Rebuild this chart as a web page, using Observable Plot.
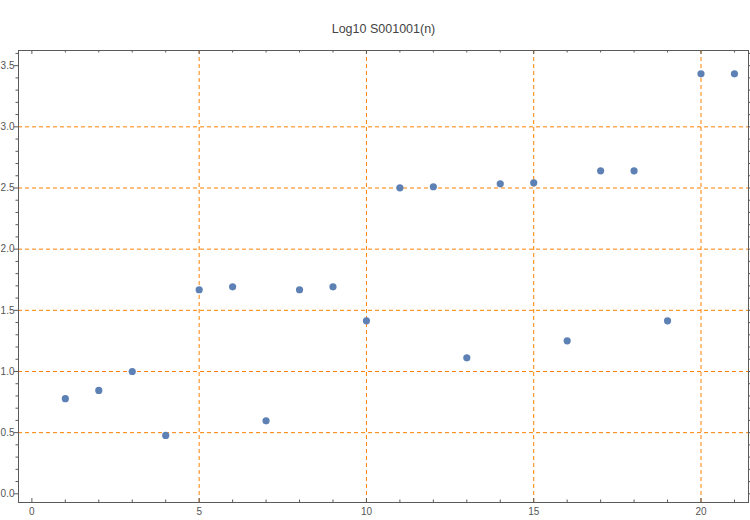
<!DOCTYPE html>
<html>
<head>
<meta charset="utf-8">
<script src="https://cdn.jsdelivr.net/npm/d3@7"></script>
<script src="https://cdn.jsdelivr.net/npm/@observablehq/plot@0.6"></script>
<style>
  html, body { margin: 0; padding: 0; background: #fff; }
  #chart { width: 750px; height: 520px; }
</style>
</head>
<body>
<div id="chart"></div>
<script>
// Data
const titleText = "Log10 S001001(n)";
const nValues = [1, 2, 3, 4, 5, 6, 7, 8, 9, 10, 11, 12, 13, 14, 15, 16, 17, 18, 19, 20, 21];
const logValues = [0.778, 0.845, 1.0, 0.477, 1.668, 1.692, 0.597, 1.668, 1.692, 1.414,
                   2.501, 2.510, 1.112, 2.534, 2.542, 1.251, 2.640, 2.640, 1.414, 3.433, 3.433];

const xDomain = [-0.40, 21.42];
const yDomain = [-0.071, 3.624];
const xMajor = [0, 5, 10, 15, 20];
const xMinor = [1, 2, 3, 4, 6, 7, 8, 9, 11, 12, 13, 14, 16, 17, 18, 19, 21];
const yMajor = [0, 0.5, 1, 1.5, 2, 2.5, 3, 3.5];
const yMinor = [0.1, 0.2, 0.3, 0.4, 0.6, 0.7, 0.8, 0.9, 1.1, 1.2, 1.3, 1.4, 1.6, 1.7, 1.8, 1.9,
                2.1, 2.2, 2.3, 2.4, 2.6, 2.7, 2.8, 2.9, 3.1, 3.2, 3.3, 3.4, 3.6];
const xGrid = [5, 10, 15, 20];
const yGrid = [0.5, 1, 1.5, 2, 2.5, 3];

const points = nValues.map((n, i) => ({n, v: logValues[i]}));

const axisColor = "#5a5a5a";
const gridColor = "#ff8000";
const dotColor = "#5e81b5";

function xTicks(data, len) {
  return [
    Plot.ruleX(data, {x: d => d, y1: () => yDomain[0], y2: () => yDomain[0], insetTop: 0, insetBottom: len, stroke: axisColor}),
    Plot.ruleX(data, {x: d => d, y1: () => yDomain[1], y2: () => yDomain[1], insetTop: len, insetBottom: 0, stroke: axisColor})
  ];
}
function yTicks(data, len) {
  return [
    Plot.ruleY(data, {y: d => d, x1: () => xDomain[0], x2: () => xDomain[0], insetLeft: 0, insetRight: len, stroke: axisColor}),
    Plot.ruleY(data, {y: d => d, x1: () => xDomain[1], x2: () => xDomain[1], insetLeft: len, insetRight: 0, stroke: axisColor})
  ];
}

const chart = Plot.plot({
  width: 750,
  height: 520,
  marginLeft: 18,
  marginRight: 2,
  marginTop: 50,
  marginBottom: 18,
  style: {fontFamily: "'Liberation Sans', Arial, sans-serif", background: "#fff"},
  x: {domain: xDomain},
  y: {domain: yDomain},
  marks: [
    Plot.ruleX(xGrid, {x: d => d, stroke: gridColor, strokeDasharray: "4,3", strokeWidth: 1}),
    Plot.ruleY(yGrid, {y: d => d, stroke: gridColor, strokeDasharray: "4,3", strokeWidth: 1}),
    ...xTicks(xMajor, 4),
    ...xTicks(xMinor, 2.5),
    ...yTicks(yMajor, 4),
    ...yTicks(yMinor, 2.5),
    Plot.axisX({ticks: xMajor, tickSize: 0, tickPadding: 5, fontSize: 10, color: "#555", tickFormat: d => String(d), label: null}),
    Plot.axisY({ticks: yMajor, tickSize: 0, tickPadding: 4, fontSize: 10, color: "#555", tickFormat: d3.format(".1f"), label: null}),
    Plot.frame({stroke: axisColor}),
    Plot.dot(points, {x: "n", y: "v", r: 3.6, fill: dotColor, stroke: null}),
    Plot.text([titleText], {text: d => d, frameAnchor: "top", dy: -26, fontSize: 12.5, fill: "#444"})
  ]
});
document.getElementById("chart").appendChild(chart);
</script>
</body>
</html>
